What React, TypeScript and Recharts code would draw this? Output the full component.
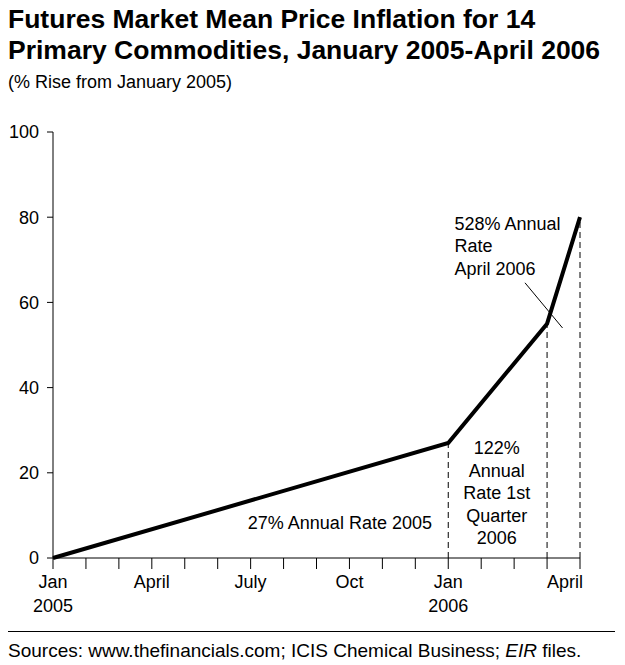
import React from "react";
import {
  LineChart,
  Line,
  XAxis,
  YAxis,
  ReferenceLine,
  ReferenceDot,
} from "recharts";

// months since January 2005
const monthIndex = [0, 12, 15, 16];
const priceRise = [0, 27, 55, 80];

const xTicks = [0, 1, 2, 3, 4, 5, 6, 7, 8, 9, 10, 11, 12, 13, 14, 15, 16];
const monthLabels = ["Jan", "", "", "April", "", "", "July", "", "", "Oct", "", "", "Jan", "", "", "", "April"];
const yearLabels = ["2005", "", "", "", "", "", "", "", "", "", "", "", "2006", "", "", "", ""];
const yTicks = [0, 20, 40, 60, 80, 100];

const FONT = "'Liberation Sans', Arial, Helvetica, sans-serif";

const data = monthIndex.map((m, i) => ({ m, v: priceRise[i] }));

function MonthTick(props: any) {
  const { x, y, payload } = props;
  const i = payload.value as number;
  const last = i === xTicks.length - 1;
  return (
    <g>
      <text
        x={last ? x + 3 : x}
        y={y + 17}
        textAnchor={last ? "end" : "middle"}
        fontSize={18}
        fontFamily={FONT}
        fill="#000"
      >
        {monthLabels[i]}
      </text>
      {yearLabels[i] && (
        <text x={x} y={y + 41} textAnchor="middle" fontSize={18} fontFamily={FONT} fill="#000">
          {yearLabels[i]}
        </text>
      )}
    </g>
  );
}

function MultiLine(lines: string[], anchor: "start" | "middle", lineGap: number) {
  return (props: any) => {
    const { cx, cy } = props;
    return (
      <text x={cx} y={cy} textAnchor={anchor} fontSize={18} fontFamily={FONT} fill="#000">
        {lines.map((t, i) => (
          <tspan key={i} x={cx} dy={i === 0 ? 0 : lineGap}>
            {t}
          </tspan>
        ))}
      </text>
    );
  };
}

export default function App() {
  return (
    <div
      style={{
        position: "absolute",
        left: 0,
        top: 0,
        width: 625,
        height: 665,
        background: "#fff",
        fontFamily: FONT,
        color: "#000",
      }}
    >
      <div
        style={{
          position: "absolute",
          left: 8,
          top: 4,
          fontSize: 26.5,
          fontWeight: "bold",
          lineHeight: "31px",
          whiteSpace: "nowrap",
        }}
      >
        Futures Market Mean Price Inflation for 14
        <br />
        Primary Commodities, January 2005-April 2006
      </div>
      <div style={{ position: "absolute", left: 8, top: 72, fontSize: 18 }}>
        (% Rise from January 2005)
      </div>

      <div style={{ position: "absolute", left: 0, top: 0 }}>
        <LineChart
          width={625}
          height={665}
          data={data}
          margin={{ top: 132, right: 45, bottom: 0, left: 0 }}
        >
          <XAxis
            dataKey="m"
            type="number"
            domain={[0, 16]}
            ticks={xTicks}
            interval={0}
            tick={<MonthTick />}
            tickSize={11}
            stroke="#000"
            axisLine={{ stroke: "#000" }}
            tickLine={{ stroke: "#000" }}
            height={107}
          />
          <YAxis
            type="number"
            domain={[0, 100]}
            ticks={yTicks}
            width={53}
            tickSize={6}
            tickMargin={8}
            stroke="#000"
            tick={{ fill: "#000", fontSize: 18, fontFamily: FONT }}
          />
          {monthIndex.slice(1).map((m, i) => (
            <ReferenceLine
              key={m}
              segment={[
                { x: m, y: 0 },
                { x: m, y: priceRise[i + 1] },
              ]}
              stroke="#000"
              strokeDasharray="6 4"
              strokeWidth={1}
            />
          ))}
          <ReferenceLine
            segment={[
              { x: 14.33, y: 64.6 },
              { x: 15.47, y: 54 },
            ]}
            stroke="#000"
            strokeWidth={1}
          />
          <Line
            type="linear"
            dataKey="v"
            stroke="#000"
            strokeWidth={4}
            dot={false}
            isAnimationActive={false}
          />
          <ReferenceDot
            x={8.71}
            y={6.8}
            r={0}
            shape={MultiLine(["27% Annual Rate 2005"], "middle", 22.5)}
          />
          <ReferenceDot
            x={13.47}
            y={24.4}
            r={0}
            shape={MultiLine(["122%", "Annual", "Rate 1st", "Quarter", "2006"], "middle", 22.5)}
          />
          <ReferenceDot
            x={12.19}
            y={77.1}
            r={0}
            shape={MultiLine(["528% Annual", "Rate", "April 2006"], "start", 22.5)}
          />
        </LineChart>
      </div>

      <div
        style={{
          position: "absolute",
          left: 8,
          top: 631,
          width: 607,
          borderTop: "1px solid #000",
        }}
      />
      <div style={{ position: "absolute", left: 8, top: 640, fontSize: 19 }}>
        Sources: www.thefinancials.com; ICIS Chemical Business; <i>EIR</i> files.
      </div>
    </div>
  );
}
